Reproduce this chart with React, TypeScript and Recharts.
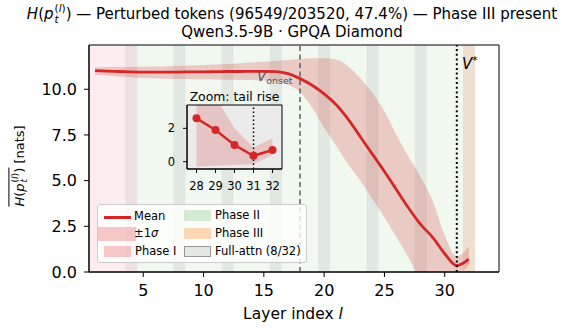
import React from 'react';
import {
    ComposedChart,
    Area,
    Line,
    XAxis,
    YAxis,
    ReferenceArea,
    ReferenceLine
} from 'recharts';

// per-layer entropy stats
const layers = [1, 2, 3, 4, 5, 6, 7, 8, 9, 10, 11, 12, 13, 14, 15, 16, 17, 18, 19, 20, 21, 22, 23, 24, 25, 26, 27, 28, 29, 30, 31, 32];
const meanH = [11.02, 10.99, 10.97, 10.95, 10.94, 10.94, 10.94, 10.94, 10.95, 10.95, 10.96, 10.97, 10.97, 10.98, 10.98, 10.96, 10.85, 10.58, 10.22, 9.75, 9.15, 8.35, 7.4, 6.45, 5.5, 4.5, 3.5, 2.6, 1.9, 1.0, 0.35, 0.7];
const upperH = [11.2, 11.2, 11.21, 11.22, 11.23, 11.24, 11.26, 11.28, 11.3, 11.32, 11.35, 11.38, 11.42, 11.46, 11.5, 11.55, 11.6, 11.65, 11.7, 11.7, 11.62, 11.25, 10.6, 9.8, 8.8, 7.5, 6.3, 5.2, 3.9, 2.0, 0.85, 1.4];
const lowerH = [10.78, 10.74, 10.7, 10.66, 10.62, 10.6, 10.58, 10.56, 10.55, 10.54, 10.53, 10.52, 10.51, 10.5, 10.48, 10.42, 10.25, 9.85, 9.0, 7.9, 6.9, 5.9, 5.0, 4.0, 3.0, 1.9, 0.8, -0.3, -0.25, -0.2, -0.15, 0.4];

const fullAttnLayers = [4, 8, 12, 16, 20, 24, 28, 32];
const phaseI = [0.5, 4.5];
const phaseII = [4.5, 31.5];
const phaseIII = [31.5, 32.5];
const vOnset = 18;
const vStar = 31;

const xTicks = [5, 10, 15, 20, 25, 30];
const yTicks = [0, 2.5, 5, 7.5, 10];
const insetStart = 28;
const insetXTicks = [28, 29, 30, 31, 32];
const insetYTicks = [0, 2];

const RED = '#d62728';
const FONT = '"DejaVu Sans", sans-serif';

const data = layers.map((l, i) => ({ layer: l, mean: meanH[i], band: [lowerH[i], upperH[i]] }));
const insetData = data.filter(d => d.layer >= insetStart);

// p_t^(l) style stacked super/subscript
const SupSub = ({ sup, sub }: { sup: React.ReactNode; sub: React.ReactNode }) => (
    <span style={{ display: 'inline-flex', flexDirection: 'column', fontSize: '0.7em', lineHeight: 1, verticalAlign: '0.62em', marginLeft: 1 }}>
        <span>{sup}</span>
        <span style={{ fontStyle: 'italic' }}>{sub}</span>
    </span>
);

const Hp = () => (
    <span>
        <i>H</i>(<i>p</i><SupSub sup={<span>(<i>l</i>)</span>} sub="t" />)
    </span>
);

const tickStyle = { fill: '#000', fontSize: 16, fontFamily: FONT };
const insetTick = { fill: '#000', fontSize: 11.5, fontFamily: FONT };

const Swatch = ({ color, border, w = 27, h = 11 }: any) => (
    <span style={{ display: 'inline-block', width: w, height: h, background: color, border: border ? `1px solid ${border}` : 'none', boxSizing: 'border-box', marginRight: 4 }} />
);

export default function App() {
    return (
        <div style={{ position: 'absolute', left: 0, top: 0, width: 562, height: 331, background: '#fff', fontFamily: FONT, color: '#000', overflow: 'hidden' }}>
            {/* title */}
            <div style={{ position: 'absolute', left: 292, top: 3, transform: 'translateX(-50%)', whiteSpace: 'nowrap', fontSize: 15, lineHeight: '15px' }}>
                <Hp /> — Perturbed tokens (96549/203520, 47.4%) — Phase III present
            </div>
            <div style={{ position: 'absolute', left: 292, top: 25, transform: 'translateX(-50%)', whiteSpace: 'nowrap', fontSize: 15, lineHeight: '15px' }}>
                Qwen3.5-9B · GPQA Diamond
            </div>

            <ComposedChart width={562} height={331} data={data} margin={{ top: 45, right: 63, bottom: 0, left: 29 }} style={{ position: 'absolute', left: 0, top: 0 }}>
                <XAxis
                    type="number"
                    dataKey="layer"
                    domain={[0.5, 34.5]}
                    ticks={xTicks}
                    allowDataOverflow
                    height={59}
                    tick={tickStyle}
                    tickSize={5}
                    tickMargin={8}
                    axisLine={{ stroke: '#000' }}
                    tickLine={{ stroke: '#000' }}
                />
                <YAxis
                    type="number"
                    domain={[0, 12.42]}
                    ticks={yTicks}
                    allowDataOverflow
                    width={60}
                    tick={tickStyle}
                    tickSize={5}
                    tickMargin={7}
                    tickFormatter={(v: number) => v.toFixed(1)}
                    axisLine={{ stroke: '#000' }}
                    tickLine={{ stroke: '#000' }}
                />
                <ReferenceArea x1={phaseI[0]} x2={phaseI[1]} fill={RED} fillOpacity={0.08} stroke="none" />
                <ReferenceArea x1={phaseII[0]} x2={phaseII[1]} fill="#2ca02c" fillOpacity={0.07} stroke="none" />
                <ReferenceArea x1={phaseIII[0]} x2={phaseIII[1]} fill="#ff7f0e" fillOpacity={0.14} stroke="none" />
                {fullAttnLayers.map(l => (
                    <ReferenceArea key={l} x1={l - 0.5} x2={l + 0.5} fill="#7f7f7f" fillOpacity={0.12} stroke="none" />
                ))}
                <Area type="monotone" dataKey="band" stroke="none" fill={RED} fillOpacity={0.22} isAnimationActive={false} />
                <Line type="monotone" dataKey="mean" stroke={RED} strokeWidth={2.8} dot={false} isAnimationActive={false} />
                <ReferenceLine x={vOnset} stroke="#555" strokeWidth={1.4} strokeDasharray="5 3.5" />
                <ReferenceLine x={vStar} stroke="#000" strokeWidth={2} strokeDasharray="2 2.7" />
                <ReferenceArea x1={0.5} x2={34.5} y1={0} y2={12.42} fill="none" stroke="#000" strokeWidth={1} />
            </ComposedChart>

            {/* V labels */}
            <div style={{ position: 'absolute', left: 257, top: 70, fontSize: 13.5, lineHeight: 1, color: '#555', whiteSpace: 'nowrap' }}>
                <i>V</i><span style={{ fontSize: '0.7em', verticalAlign: '-0.3em' }}>onset</span>
            </div>
            <div style={{ position: 'absolute', left: 462, top: 55, fontSize: 15, lineHeight: 1, whiteSpace: 'nowrap' }}>
                <i>V</i><span style={{ fontSize: '0.7em', verticalAlign: '0.5em' }}>*</span>
            </div>

            {/* axis labels */}
            <div style={{ position: 'absolute', left: 293, top: 307, transform: 'translateX(-50%)', fontSize: 15.5, lineHeight: 1, whiteSpace: 'nowrap' }}>
                Layer index <i>l</i>
            </div>
            <div style={{ position: 'absolute', left: 19, top: 166, transform: 'translate(-50%, -50%) rotate(-90deg)', fontSize: 13, lineHeight: 1, whiteSpace: 'nowrap' }}>
                <span style={{ display: 'inline-block', borderTop: '1px solid #000', paddingTop: 2 }}><Hp /></span> [nats]
            </div>

            {/* legend */}
            <div style={{ position: 'absolute', left: 97, top: 204, width: 210, height: 59, boxSizing: 'border-box', background: 'rgba(255,255,255,0.8)', border: '1px solid #ccc', borderRadius: 3, fontSize: 11.5, lineHeight: 1 }}>
                <div style={{ position: 'absolute', left: 6, top: 11, width: 27, height: 3, background: RED }} />
                <div style={{ position: 'absolute', left: 36, top: 6 }}>Mean</div>
                <div style={{ position: 'absolute', left: 0, top: 22, width: 38, height: 14, background: RED, opacity: 0.25 }} />
                <div style={{ position: 'absolute', left: 36, top: 23 }}>±1<i>σ</i></div>
                <div style={{ position: 'absolute', left: 6, top: 41, display: 'flex', alignItems: 'center' }}>
                    <Swatch color="rgba(214,39,40,0.25)" />Phase I
                </div>
                <div style={{ position: 'absolute', left: 86, top: 5, display: 'flex', alignItems: 'center' }}>
                    <Swatch color="rgba(44,160,44,0.2)" />Phase II
                </div>
                <div style={{ position: 'absolute', left: 86, top: 23, display: 'flex', alignItems: 'center' }}>
                    <Swatch color="rgba(255,127,14,0.3)" />Phase III
                </div>
                <div style={{ position: 'absolute', left: 86, top: 41, display: 'flex', alignItems: 'center' }}>
                    <Swatch color="rgba(127,127,127,0.18)" border="#999" />Full-attn (8/32)
                </div>
            </div>

            {/* inset */}
            <div style={{ position: 'absolute', left: 187, top: 105, width: 95, height: 64, background: '#ebebeb' }} />
            <div style={{ position: 'absolute', left: 234.5, top: 91, transform: 'translateX(-50%)', fontSize: 12.4, lineHeight: 1, whiteSpace: 'nowrap' }}>
                Zoom: tail rise
            </div>
            <ComposedChart width={140} height={110} data={insetData} margin={{ top: 15, right: 8, bottom: 0, left: 0 }} style={{ position: 'absolute', left: 150, top: 90 }}>
                <XAxis
                    type="number"
                    dataKey="layer"
                    domain={[27.5, 32.5]}
                    ticks={insetXTicks}
                    allowDataOverflow
                    height={31}
                    tick={insetTick}
                    tickSize={4}
                    tickMargin={9}
                    axisLine={{ stroke: '#000' }}
                    tickLine={{ stroke: '#000' }}
                />
                <YAxis
                    type="number"
                    domain={[-0.44, 3.4]}
                    ticks={insetYTicks}
                    allowDataOverflow
                    width={37}
                    tick={insetTick}
                    tickSize={4}
                    tickMargin={8}
                    axisLine={{ stroke: '#000' }}
                    tickLine={{ stroke: '#000' }}
                />
                <Area type="linear" dataKey="band" stroke="none" fill={RED} fillOpacity={0.2} isAnimationActive={false} />
                <Line type="linear" dataKey="mean" stroke={RED} strokeWidth={2.5} dot={{ r: 4, fill: RED, stroke: RED, strokeWidth: 0 }} isAnimationActive={false} />
                <ReferenceLine x={vStar} stroke="#000" strokeWidth={1.5} strokeDasharray="1.5 2.5" />
                <ReferenceArea x1={27.5} x2={32.5} y1={-0.44} y2={3.4} fill="none" stroke="#000" strokeWidth={1} />
            </ComposedChart>
        </div>
    );
}
